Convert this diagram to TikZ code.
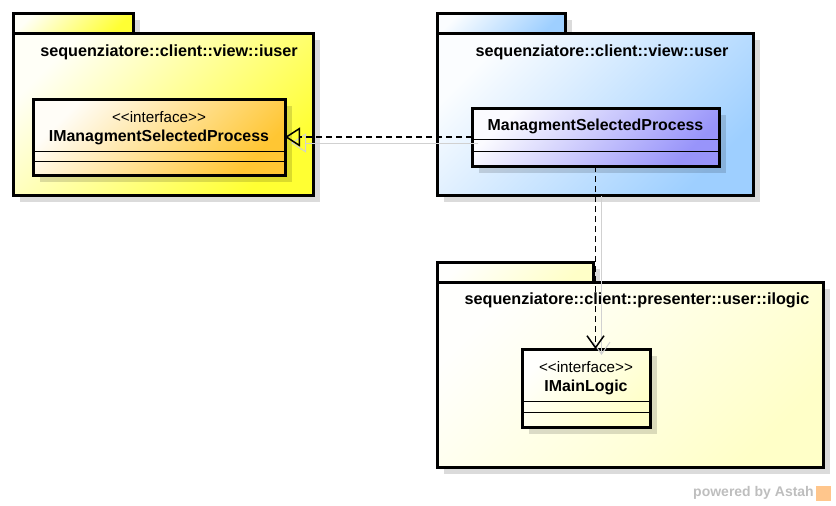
\documentclass[tikz,border=0pt]{standalone}
\usepackage{fontspec}
\setmainfont{Liberation Sans}[Ligatures=TeXOff]
\usetikzlibrary{arrows.meta,shadows,positioning}

\definecolor{pkgyellow}{RGB}{255,255,51}
\definecolor{pkgblue}{RGB}{158,207,255}
\definecolor{pkgcream}{RGB}{255,255,200}
\definecolor{ifaceorange}{RGB}{255,198,51}
\definecolor{classviolet}{RGB}{152,148,250}
\definecolor{markgray}{RGB}{190,190,190}

\begin{document}
\begin{tikzpicture}[x=1pt, y=-1pt,
    thickbox/.style={draw, line width=3pt, outer sep=0pt, inner sep=0pt, anchor=north west,
      general shadow={fill=black, opacity=0.14, shadow xshift=7pt, shadow yshift=-7pt}},
    pkgtab/.style={thickbox, minimum height=20pt},
    grad/.style={top color=white!96!#1, bottom color=#1, shading angle=45},
    pkgname/.style={font=\fontsize{16.2}{18}\selectfont\bfseries, inner sep=0pt},
    stereo/.style={font=\fontsize{15.2}{18}\selectfont, inner sep=0pt},
    clsname/.style={font=\fontsize{15.9}{18}\selectfont\bfseries, inner sep=0pt},
    sepline/.style={line width=1pt},
    realize/.style={line width=1.5pt, dash pattern=on 6pt off 4pt,
      -{Triangle[open, length=15pt, width=19pt, line width=1.5pt]}},
    depend/.style={line width=1.5pt, dash pattern=on 6pt off 4pt,
      -{Straight Barb[length=12pt, width=17pt, line width=1.5pt]}},
    linkshadow/.style={draw=black!18, line width=1pt}]

  \useasboundingbox (0,0) rectangle (836,506);

  % package sequenziatore::client::view::iuser
  \node[pkgtab, grad=pkgyellow, minimum width=120pt] (iuserTab) at (13,13) {};
  \node[thickbox, grad=pkgyellow, minimum width=300pt, minimum height=162pt] (iuserPkg) at (13,33) {};
  \node[pkgname] (iuserName) at ([xshift=6pt, yshift=-19pt]iuserPkg.north) {sequenziatore::client::view::iuser};

  % package sequenziatore::client::view::user
  \node[pkgtab, grad=pkgblue, minimum width=128pt] (userTab) at (437,13) {};
  \node[thickbox, grad=pkgblue, minimum width=316pt, minimum height=162pt] (userPkg) at (437,33) {};
  \node[pkgname] (userName) at ([xshift=7pt, yshift=-19pt]userPkg.north) {sequenziatore::client::view::user};

  % package sequenziatore::client::presenter::user::ilogic
  \node[pkgtab, grad=pkgcream, minimum width=156pt] (ilogicTab) at (437,262) {};
  \node[thickbox, grad=pkgcream, minimum width=386pt, minimum height=185pt] (ilogicPkg) at (437,282) {};
  \node[pkgname] (ilogicName) at ([xshift=7pt, yshift=-18pt]ilogicPkg.north) {sequenziatore::client::presenter::user::ilogic};

  % interface IManagmentSelectedProcess
  \node[thickbox, grad=ifaceorange, minimum width=252pt, minimum height=76pt] (imsp) at (33,99) {};
  \node[stereo] (imspStereo) at ([yshift=-18pt]imsp.north) {<<interface>>};
  \node[clsname] (imspName) at ([yshift=-38pt]imsp.north) {IManagmentSelectedProcess};
  \draw[sepline] ([yshift=-52pt]imsp.north west) -- ([yshift=-52pt]imsp.north east);
  \draw[sepline] ([yshift=-62pt]imsp.north west) -- ([yshift=-62pt]imsp.north east);

  % class ManagmentSelectedProcess
  \node[thickbox, grad=classviolet, minimum width=247pt, minimum height=58pt] (msp) at (472,108) {};
  \node[clsname] (mspName) at ([yshift=-18pt]msp.north) {ManagmentSelectedProcess};
  \draw[sepline] ([yshift=-31pt]msp.north west) -- ([yshift=-31pt]msp.north east);
  \draw[sepline] ([yshift=-43pt]msp.north west) -- ([yshift=-43pt]msp.north east);

  % interface IMainLogic
  \node[thickbox, grad=pkgcream, minimum width=128pt, minimum height=78pt] (iml) at (522,349) {};
  \node[stereo] (imlStereo) at ([yshift=-18pt]iml.north) {<<interface>>};
  \node[clsname] (imlName) at ([yshift=-38pt]iml.north) {IMainLogic};
  \draw[sepline] ([yshift=-52pt]iml.north west) -- ([yshift=-52pt]iml.north east);
  \draw[sepline] ([yshift=-63pt]iml.north west) -- ([yshift=-63pt]iml.north east);

  % realization
  \draw[linkshadow, -{Triangle[open, length=15pt, width=19pt]}]
    ([xshift=6pt, yshift=-6pt]msp.west) -- ([xshift=6pt, yshift=-6pt]imsp.east);
  \draw[realize] (msp.west) -- (imsp.east);

  % dependency
  \coordinate (depEnd) at (msp.south |- iml.north);
  \draw[linkshadow, -{Straight Barb[length=12pt, width=17pt]}]
    ([xshift=6pt, yshift=-30pt]msp.south) -- ([xshift=6pt, yshift=-6pt]depEnd);
  \draw[depend] (msp.south) -- (depEnd);

  % watermark
  \node[font=\fontsize{14}{16}\selectfont\bfseries, text=markgray, inner sep=0pt, anchor=east] (astahMark) at (814,493) {powered by Astah};
  \node[fill=orange!45, minimum size=15pt, inner sep=0pt, right=2pt of astahMark] (astahLogo) {};
\end{tikzpicture}
\end{document}
